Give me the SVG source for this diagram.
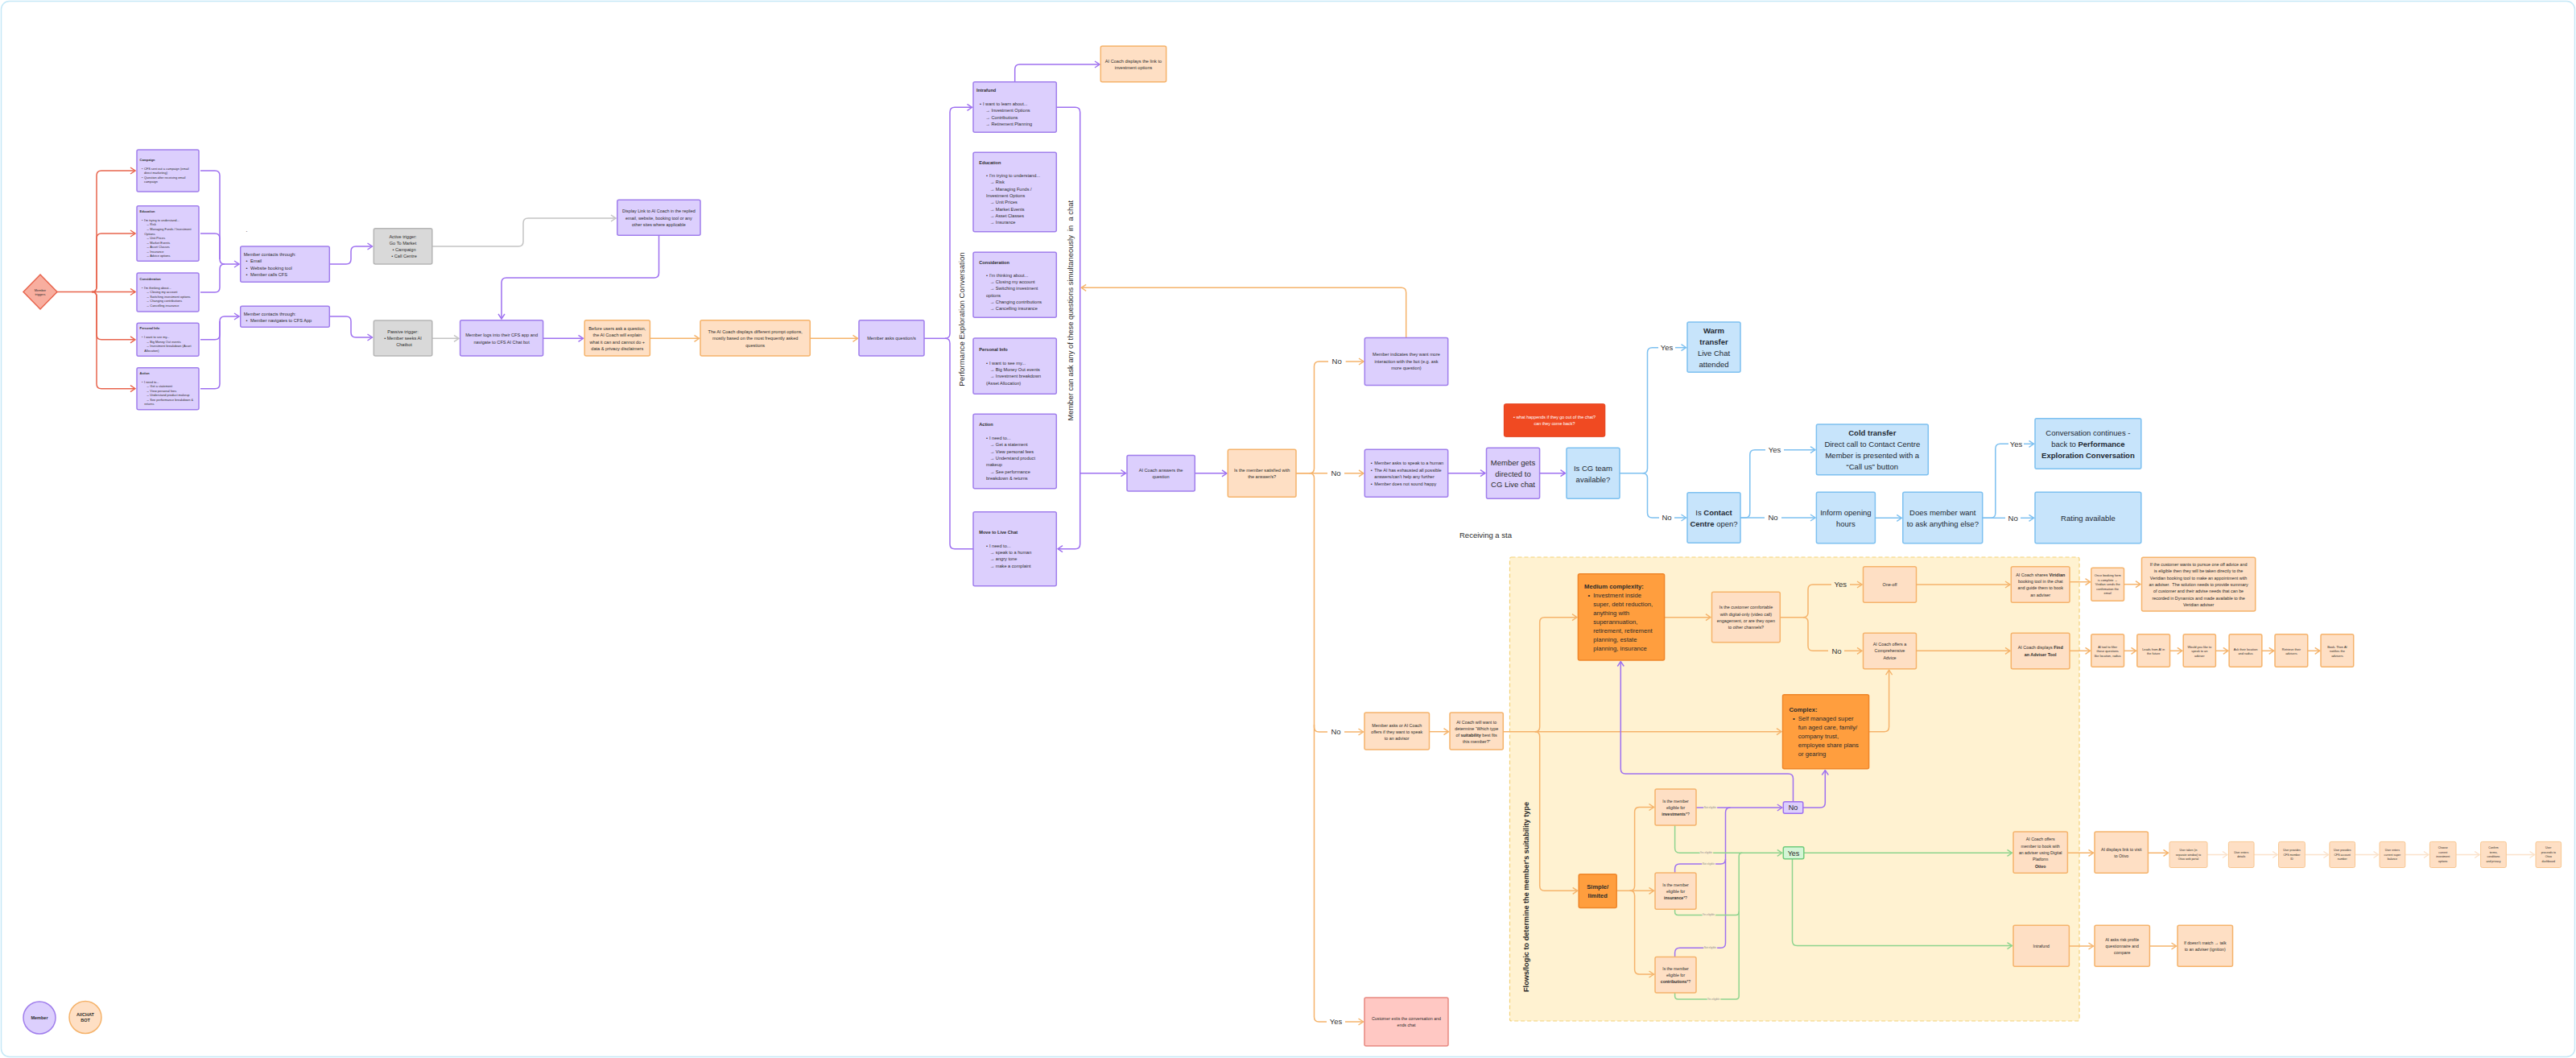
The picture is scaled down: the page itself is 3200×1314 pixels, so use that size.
<svg xmlns="http://www.w3.org/2000/svg" width="3200" height="1314" viewBox="0 0 3200 1314">
<defs>
<style>
.t{font-family:"Liberation Sans",Arial,sans-serif;fill:#2b2b2b}
.c{text-anchor:middle}
.b{font-weight:700}
.s35{font-size:3.5px}.s4{font-size:3.9px}.s5{font-size:5.4px}.s56{font-size:5.6px}.s77{font-size:7.7px}.s95{font-size:9.5px}
.bp{fill:#DCCFFD;stroke:#A07EEC;stroke-width:1.5}
.bo{fill:#FEDFC4;stroke:#F5B36B;stroke-width:1.5}
.bf{fill:#FEDFC4;stroke:#F8C690;stroke-width:1}
.bg{fill:#D9D9D9;stroke:#B5B5B5;stroke-width:1.5}
.bb{fill:#C7E4FB;stroke:#7DC0F0;stroke-width:1.5}
.bd{fill:#FF9E3E;stroke:#EF8629;stroke-width:1.5}
.k{fill:none;stroke-width:1.5}
.kp{stroke:#9E70F0}.ko{stroke:#F5B36B}.kg{stroke:#C4C4C4}.kb{stroke:#7DC0F0}.kr{stroke:#E8654E}.kn{stroke:#8ED48E}.kf{stroke:#FBE2CB}
.bt{fill:#1f2a33}
.lab{font-family:"Liberation Sans",Arial,sans-serif;font-size:9.5px;fill:#333;text-anchor:middle}
.el{font-family:"Liberation Sans",Arial,sans-serif;font-size:3px;fill:#888;text-anchor:middle;paint-order:stroke;stroke:#FFF2D1;stroke-width:2}
</style>
<marker id="ap" viewBox="0 0 8 10" refX="7" refY="5" markerWidth="8" markerHeight="10" markerUnits="userSpaceOnUse" orient="auto"><path d="M1,1 L7,5 L1,9" fill="none" stroke="#9E70F0" stroke-width="1.4"/></marker>
<marker id="ao" viewBox="0 0 8 10" refX="7" refY="5" markerWidth="8" markerHeight="10" markerUnits="userSpaceOnUse" orient="auto"><path d="M1,1 L7,5 L1,9" fill="none" stroke="#F5B36B" stroke-width="1.4"/></marker>
<marker id="ag" viewBox="0 0 8 10" refX="7" refY="5" markerWidth="8" markerHeight="10" markerUnits="userSpaceOnUse" orient="auto"><path d="M1,1 L7,5 L1,9" fill="none" stroke="#C4C4C4" stroke-width="1.4"/></marker>
<marker id="ab" viewBox="0 0 8 10" refX="7" refY="5" markerWidth="8" markerHeight="10" markerUnits="userSpaceOnUse" orient="auto"><path d="M1,1 L7,5 L1,9" fill="none" stroke="#7DC0F0" stroke-width="1.4"/></marker>
<marker id="ar" viewBox="0 0 8 10" refX="7" refY="5" markerWidth="8" markerHeight="10" markerUnits="userSpaceOnUse" orient="auto"><path d="M1,1 L7,5 L1,9" fill="none" stroke="#E8654E" stroke-width="1.4"/></marker>
<marker id="an" viewBox="0 0 8 10" refX="7" refY="5" markerWidth="8" markerHeight="10" markerUnits="userSpaceOnUse" orient="auto"><path d="M1,1 L7,5 L1,9" fill="none" stroke="#8ED48E" stroke-width="1.4"/></marker>
<marker id="af" viewBox="0 0 8 10" refX="7" refY="5" markerWidth="8" markerHeight="10" markerUnits="userSpaceOnUse" orient="auto"><path d="M1,1 L7,5 L1,9" fill="none" stroke="#FBE2CB" stroke-width="1.4"/></marker>
</defs>
<rect width="3200" height="1314" fill="#ffffff"/>
<rect x="1.5" y="1.5" width="3197" height="1311" rx="10" fill="#ffffff" stroke="#C5E8F7" stroke-width="1.5"/>

<g id="suitability-region">
<rect x="1875.5" y="692" width="707.5" height="576" rx="2" fill="#FFF2D1" stroke="#F3D179" stroke-width="1.2" stroke-dasharray="5 3"/>
<text class="t b" font-size="9.2" text-anchor="middle" textLength="236" lengthAdjust="spacingAndGlyphs" transform="translate(1899.2 1114) rotate(-90)" fill="#1a1a1a">Flows/logic to determine the member's suitability type</text>
</g>

<g id="connectors">
<path class="k kr" d="M71 362.5 H168" marker-end="url(#ar)"/>
<path class="k kr" d="M114 362.5 Q120 362.5 120 356.5 V218 Q120 212 126 212 H168" marker-end="url(#ar)"/>
<path class="k kr" d="M114 362.5 Q120 362.5 120 356.5 V296 Q120 290 126 290 H168" marker-end="url(#ar)"/>
<path class="k kr" d="M114 362.5 Q120 362.5 120 368.5 V415.8 Q120 421.8 126 421.8 H168" marker-end="url(#ar)"/>
<path class="k kr" d="M114 362.5 Q120 362.5 120 368.5 V476.7 Q120 482.7 126 482.7 H168" marker-end="url(#ar)"/>

<path class="k kp" d="M249 212 H267 Q273 212 273 218 V322 Q273 328 279 328 H297" marker-end="url(#ap)"/>
<path class="k kp" d="M249 290 H267 Q273 290 273 296 V322"/>
<path class="k kp" d="M249 363 H267 Q273 363 273 357 V334 Q273 328 279 328"/>
<path class="k kp" d="M249 421.8 H267 Q273 421.8 273 415.8 V399 Q273 393 279 393 H297" marker-end="url(#ap)"/>
<path class="k kp" d="M249 482.7 H267 Q273 482.7 273 476.7 V399"/>

<path class="k kp" d="M410 328 H430 Q436 328 436 322 V312 Q436 306 442 306 H462.5" marker-end="url(#ap)"/>
<path class="k kp" d="M410 393 H430 Q436 393 436 399 V413 Q436 419 442 419 H462.5" marker-end="url(#ap)"/>
<path class="k kg" d="M537 306 H644 Q650 306 650 300 V277 Q650 271 656 271 H765" marker-end="url(#ag)"/>
<path class="k kp" d="M818.5 292.5 V339 Q818.5 345 812.5 345 H629 Q623 345 623 351 V396" marker-end="url(#ap)"/>
<path class="k kg" d="M537 420.3 H570" marker-end="url(#ag)"/>
<path class="k kp" d="M675 420.3 H724.5" marker-end="url(#ap)"/>
<path class="k ko" d="M807.5 420.3 H868.5" marker-end="url(#ao)"/>
<path class="k ko" d="M1006.5 420.3 H1065.5" marker-end="url(#ao)"/>
<path class="k kp" d="M1148 420.3 H1174"/>
<path class="k kp" d="M1174 420.3 Q1180 420.3 1180 414.3 V139.3 Q1180 133.3 1186 133.3 H1207.5" marker-end="url(#ap)"/>
<path class="k kp" d="M1174 420.3 Q1180 420.3 1180 426.3 V675.7 Q1180 681.7 1186 681.7 H1209"/>
<path class="k kp" d="M1312.5 133.3 H1335.7 Q1341.7 133.3 1341.7 139.3 V675.7 Q1341.7 681.7 1335.7 681.7 H1314" marker-end="url(#ap)"/>
<path class="k kp" d="M1341.7 587.7 H1398.5" marker-end="url(#ap)"/>
<path class="k kp" d="M1260.7 101.7 V86 Q1260.7 80 1266.7 80 H1366" marker-end="url(#ap)"/>
<path class="k ko" d="M1746.7 419.5 V363.3 Q1746.7 357.3 1740.7 357.3 H1343.2" marker-end="url(#ao)"/>
<path class="k kp" d="M1484.3 587.8 H1524" marker-end="url(#ap)"/>

<path class="k ko" d="M1610 587.8 H1626.5 Q1632.5 587.8 1632.5 581.8 V455 Q1632.5 449 1638.5 449 H1650"/>
<path class="k ko" d="M1671.7 449 H1694" marker-end="url(#ao)"/>
<path class="k ko" d="M1610 587.8 H1649"/>
<path class="k ko" d="M1670 587.8 H1694" marker-end="url(#ao)"/>
<path class="k ko" d="M1626.5 587.8 Q1632.5 587.8 1632.5 593.8 V903 Q1632.5 909 1638.5 909 H1649"/>
<path class="k ko" d="M1670 909 H1693.5" marker-end="url(#ao)"/>
<path class="k ko" d="M1632.5 900 V1263 Q1632.5 1269 1638.5 1269 H1648"/>
<path class="k ko" d="M1671 1269 H1693.5" marker-end="url(#ao)"/>

<path class="k kp" d="M1798.7 587.7 H1845" marker-end="url(#ap)"/>
<path class="k kp" d="M1912.6 587.7 H1944.5" marker-end="url(#ap)"/>
<path class="k kb" d="M2012 587.7 H2040.5 Q2046.5 587.7 2046.5 581.7 V437.7 Q2046.5 431.7 2052.5 431.7 H2060"/>
<path class="k kb" d="M2081 431.7 H2094.5" marker-end="url(#ab)"/>
<path class="k kb" d="M2040.5 587.7 Q2046.5 587.7 2046.5 593.7 V637 Q2046.5 643 2052.5 643 H2061"/>
<path class="k kb" d="M2080 643 H2094.5" marker-end="url(#ab)"/>
<path class="k kb" d="M2162 643 H2167.8 Q2173.8 643 2173.8 637 V564.7 Q2173.8 558.7 2179.8 558.7 H2193"/>
<path class="k kb" d="M2216 558.7 H2255" marker-end="url(#ab)"/>
<path class="k kb" d="M2162 643 H2192"/>
<path class="k kb" d="M2213 643 H2255" marker-end="url(#ab)"/>
<path class="k kb" d="M2329.4 643.3 H2362.3" marker-end="url(#ab)"/>
<path class="k kb" d="M2462.7 643.3 H2472.8 Q2478.8 643.3 2478.8 637.3 V557.3 Q2478.8 551.3 2484.8 551.3 H2495"/>
<path class="k kb" d="M2514 551.3 H2526.5" marker-end="url(#ab)"/>
<path class="k kb" d="M2462.7 643.3 H2491"/>
<path class="k kb" d="M2510 643.3 H2526.5" marker-end="url(#ab)"/>

<path class="k ko" d="M1775.5 908.7 H1799.5" marker-end="url(#ao)"/>
<path class="k ko" d="M1867.3 908.7 H2213" marker-end="url(#ao)"/>
<path class="k ko" d="M1906.7 908.7 Q1912.7 908.7 1912.7 902.7 V772.7 Q1912.7 766.7 1918.7 766.7 H1959" marker-end="url(#ao)"/>
<path class="k ko" d="M1906.7 908.7 Q1912.7 908.7 1912.7 914.7 V1100.3 Q1912.7 1106.3 1918.7 1106.3 H1959.7" marker-end="url(#ao)"/>
<path class="k ko" d="M2067.6 766.7 H2125" marker-end="url(#ao)"/>
<path class="k ko" d="M2211.3 766.7 H2240 Q2246 766.7 2246 760.7 V732 Q2246 726 2252 726 H2275"/>
<path class="k ko" d="M2298 726 H2313" marker-end="url(#ao)"/>
<path class="k ko" d="M2240 766.7 Q2246 766.7 2246 772.7 V802.3 Q2246 808.3 2252 808.3 H2271"/>
<path class="k ko" d="M2291 808.3 H2313" marker-end="url(#ao)"/>
<path class="k ko" d="M2380.5 726 H2497" marker-end="url(#ao)"/>
<path class="k ko" d="M2380.5 808.3 H2497" marker-end="url(#ao)"/>
<path class="k ko" d="M2321.6 908.7 H2340.6 Q2346.6 908.7 2346.6 902.7 V832.2" marker-end="url(#ao)"/>
<path class="k ko" d="M2571 722.7 H2596.5" marker-end="url(#ao)"/>
<path class="k ko" d="M2638.5 725.7 H2659" marker-end="url(#ao)"/>
<path class="k ko" d="M2571 808.3 H2596.5" marker-end="url(#ao)"/>
<path class="k ko" d="M2638.5 808.3 H2653.5" marker-end="url(#ao)"/>
<path class="k ko" d="M2695.5 808.3 H2710.8" marker-end="url(#ao)"/>
<path class="k ko" d="M2752.4 808.3 H2767.8" marker-end="url(#ao)"/>
<path class="k ko" d="M2809.8 808.3 H2824.7" marker-end="url(#ao)"/>
<path class="k ko" d="M2866.7 808.3 H2881.7" marker-end="url(#ao)"/>
<path class="k ko" d="M2008.2 1106.3 H2054.5" marker-end="url(#ao)"/>
<path class="k ko" d="M2024.6 1106.3 Q2030.6 1106.3 2030.6 1100.3 V1008.5 Q2030.6 1002.5 2036.6 1002.5 H2054.5" marker-end="url(#ao)"/>
<path class="k ko" d="M2024.6 1106.3 Q2030.6 1106.3 2030.6 1112.3 V1204 Q2030.6 1210 2036.6 1210 H2054.5" marker-end="url(#ao)"/>

<path class="k kp" d="M2107 1003 H2213.8" marker-end="url(#ap)"/>
<path class="k kp" d="M2080.6 1084 V1079.1 Q2080.6 1073.1 2086.6 1073.1 H2137.5 Q2143.5 1073.1 2143.5 1067.1 V1009 Q2143.5 1003 2149.5 1003"/>
<path class="k kp" d="M2080.6 1188.5 V1183.3 Q2080.6 1177.3 2086.6 1177.3 H2137.5 Q2143.5 1177.3 2143.5 1171.3 V1067"/>
<path class="k kp" d="M2239.8 1003 H2261.3 Q2267.3 1003 2267.3 997 V956.5" marker-end="url(#ap)"/>
<path class="k kp" d="M2227.5 995.7 V966.9 Q2227.5 960.9 2221.5 960.9 H2019.3 Q2013.3 960.9 2013.3 954.9 V821.5" marker-end="url(#ap)"/>
<path class="k kn" d="M2080.6 1025.1 V1053.3 Q2080.6 1059.3 2086.6 1059.3 H2213.8" marker-end="url(#an)"/>
<path class="k kn" d="M2080.6 1129.3 V1132.4 Q2080.6 1136.4 2084.6 1136.4 H2156.2 Q2160.2 1136.4 2160.2 1132.4 V1063.3 Q2160.2 1059.3 2164.2 1059.3"/>
<path class="k kn" d="M2080.6 1233.1 V1236.9 Q2080.6 1240.9 2084.6 1240.9 H2156.2 Q2160.2 1240.9 2160.2 1236.9 V1132"/>
<path class="k kn" d="M2240.8 1059.3 H2499.5" marker-end="url(#an)"/>
<path class="k kn" d="M2226.5 1066.7 V1168.6 Q2226.5 1174.6 2232.5 1174.6 H2499.5" marker-end="url(#an)"/>
<path class="k ko" d="M2568.4 1059.3 H2600.5" marker-end="url(#ao)"/>
<path class="k ko" d="M2668.4 1059.3 H2693.5" marker-end="url(#ao)"/>
<path class="k kf" d="M2742 1061.5 H2766.9" marker-end="url(#af)"/>
<path class="k kf" d="M2800 1061.5 H2829.1" marker-end="url(#af)"/>
<path class="k kf" d="M2863.3 1061.5 H2892.4" marker-end="url(#af)"/>
<path class="k kf" d="M2925.5 1061.5 H2954.5" marker-end="url(#af)"/>
<path class="k kf" d="M2987.8 1061.5 H3016.9" marker-end="url(#af)"/>
<path class="k kf" d="M3051 1061.5 H3080.1" marker-end="url(#af)"/>
<path class="k kf" d="M3113.3 1061.5 H3148.5" marker-end="url(#af)"/>
<path class="k ko" d="M2570.4 1175 H2600.5" marker-end="url(#ao)"/>
<path class="k ko" d="M2670.4 1175 H2703.5" marker-end="url(#ao)"/>

<text class="lab" x="1660.7" y="452.4">No</text>
<text class="lab" x="1659.5" y="591.2">No</text>
<text class="lab" x="1659.5" y="912.4">No</text>
<text class="lab" x="1659.5" y="1272.4">Yes</text>
<text class="lab" x="2070.5" y="435.1">Yes</text>
<text class="lab" x="2070.5" y="646.4">No</text>
<text class="lab" x="2204.6" y="562.1">Yes</text>
<text class="lab" x="2202.5" y="646.4">No</text>
<text class="lab" x="2504.5" y="554.7">Yes</text>
<text class="lab" x="2500.6" y="646.7">No</text>
<text class="lab" x="2286.3" y="729.4">Yes</text>
<text class="lab" x="2281.5" y="811.7">No</text>
<text class="el" x="2124.5" y="1004">Not eligible</text>
<text class="el" x="2119.4" y="1060.3">Yes eligible</text>
<text class="el" x="2122.4" y="1074.1">Not eligible</text>
<text class="el" x="2122.4" y="1137.4">Yes eligible</text>
<text class="el" x="2124.5" y="1178.3">Not eligible</text>
<text class="el" x="2128.6" y="1241.9">Yes eligible</text>
</g>

<g id="member-triggers">
<polygon points="50,341 71,362.5 50,384 29,362.5" fill="#F8AE9F" stroke="#E8654E" stroke-width="1.5"/>
<text class="t c s4" fill="#5a2a20"><tspan x="50" y="361.7">Member</tspan><tspan x="50" y="367.4">triggers</tspan></text>
</g>

<g id="campaign">
<rect class="bp" x="170" y="186" width="77" height="52" rx="2"/>
<text class="t s4"><tspan x="173.6" y="199.6" class="b">Campaign</tspan><tspan x="176" y="210.6">•</tspan><tspan x="179" y="210.6">CFS sent out a campaign (email</tspan><tspan x="179" y="216">direct marketing)</tspan><tspan x="176" y="221.6">•</tspan><tspan x="179" y="221.6">Question after receiving email</tspan><tspan x="179" y="227.3">campaign</tspan></text>
</g>
<g id="education-1">
<rect class="bp" x="170" y="255.7" width="77" height="68.6" rx="2"/>
<text class="t s4"><tspan x="173.6" y="264" class="b">Education</tspan><tspan x="176" y="275">•</tspan><tspan x="179" y="275">I'm trying to understand...</tspan><tspan x="181.4" y="280.3">→ Risk</tspan><tspan x="181.4" y="286">→ Managing Funds / Investment</tspan><tspan x="179.3" y="291.6">Options</tspan><tspan x="181.4" y="297">→ Unit Prices</tspan><tspan x="181.4" y="302.6">→ Market Events</tspan><tspan x="181.4" y="308">→ Asset Classes</tspan><tspan x="181.4" y="313.6">→ Insurance</tspan><tspan x="181.4" y="319">→ Advice options</tspan></text>
</g>
<g id="consideration-1">
<rect class="bp" x="170" y="339" width="77" height="48" rx="2"/>
<text class="t s4"><tspan x="173.6" y="347.6" class="b">Consideration</tspan><tspan x="176" y="359">•</tspan><tspan x="179" y="359">I'm thinking about...</tspan><tspan x="181.4" y="364.3">→ Closing my account</tspan><tspan x="181.4" y="370">→ Switching investment options</tspan><tspan x="181.4" y="375.3">→ Changing contributions</tspan><tspan x="181.4" y="381">→ Cancelling insurance</tspan></text>
</g>
<g id="personal-info-1">
<rect class="bp" x="170" y="401.3" width="77" height="41" rx="2"/>
<text class="t s4"><tspan x="173.6" y="409.3" class="b">Personal Info</tspan><tspan x="176" y="420.3">•</tspan><tspan x="179" y="420.3">I want to see my...</tspan><tspan x="181.4" y="426">→ Big Money Out events</tspan><tspan x="181.4" y="431.3">→ Investment breakdown (Asset</tspan><tspan x="179.3" y="437">Allocation)</tspan></text>
</g>
<g id="action-1">
<rect class="bp" x="170" y="456.7" width="77" height="52" rx="2"/>
<text class="t s4"><tspan x="173.6" y="464.6" class="b">Action</tspan><tspan x="176" y="475.6">•</tspan><tspan x="179" y="475.6">I need to...</tspan><tspan x="181.4" y="481">→ Get a statement</tspan><tspan x="181.4" y="486.6">→ View personal fees</tspan><tspan x="181.4" y="492.3">→ Understand product makeup</tspan><tspan x="181.4" y="497.6">→ See performance breakdown &amp;</tspan><tspan x="179.3" y="503.3">returns</tspan></text>
</g>

<g id="contacts-a">
<rect class="bp" x="298.7" y="306" width="110.6" height="44.3" rx="2"/>
<text class="t s56"><tspan x="302.7" y="318">Member contacts through:</tspan><tspan x="305.5" y="326.3">•</tspan><tspan x="311" y="326.3">Email</tspan><tspan x="305.5" y="334.7">•</tspan><tspan x="311" y="334.7">Website booking tool</tspan><tspan x="305.5" y="343">•</tspan><tspan x="311" y="343">Member calls CFS</tspan></text>
</g>
<g id="contacts-b">
<rect class="bp" x="298.7" y="380.3" width="110.6" height="26" rx="2"/>
<text class="t s56"><tspan x="302.7" y="391.7">Member contacts through:</tspan><tspan x="305.5" y="400">•</tspan><tspan x="311" y="400">Member navigates to CFS App</tspan></text>
</g>
<g id="dot"><text class="t" font-size="7" x="305.5" y="288">.</text></g>

<g id="active-trigger">
<rect class="bg" x="464.3" y="283.7" width="72.5" height="44.3" rx="2"/>
<text class="t c s56" fill="#333"><tspan x="500.5" y="295.7">Active trigger:</tspan><tspan x="500.5" y="303.7">Go To Market</tspan><tspan x="502" y="312">• Campaign</tspan><tspan x="502" y="320.3">• Call Centre</tspan></text>
</g>
<g id="passive-trigger">
<rect class="bg" x="464.3" y="398" width="72.5" height="44" rx="2"/>
<text class="t c s56" fill="#333"><tspan x="500.5" y="414">Passive trigger:</tspan><tspan x="500.5" y="422">• Member seeks AI</tspan><tspan x="502" y="430.3">Chatbot</tspan></text>
</g>
<g id="display-link">
<rect class="bp" x="766.8" y="248.3" width="103.2" height="44" rx="2"/>
<text class="t c s5"><tspan x="818.4" y="264.3">Display Link to AI Coach in the replied</tspan><tspan x="818.4" y="272.7">email, website, booking tool or any</tspan><tspan x="818.4" y="281">other sites where applicable</tspan></text>
</g>
<g id="login">
<rect class="bp" x="571.6" y="397.7" width="103" height="44.3" rx="2"/>
<text class="t c s56"><tspan x="623.1" y="418.3">Member logs into their CFS app and</tspan><tspan x="623.1" y="426.7">navigate to CFS AI Chat bot</tspan></text>
</g>
<g id="before-ask">
<rect class="bo" x="726.2" y="397.7" width="81.2" height="44.3" rx="2"/>
<text class="t c s56"><tspan x="766.8" y="410">Before users ask a question,</tspan><tspan x="766.8" y="418.3">the AI Coach will explain</tspan><tspan x="766.8" y="426.7">what it can and cannot do +</tspan><tspan x="766.8" y="434.7">data &amp; privacy disclaimers</tspan></text>
</g>
<g id="prompts">
<rect class="bo" x="870" y="397.7" width="136.3" height="44.3" rx="2"/>
<text class="t c s56"><tspan x="938.2" y="414">The AI Coach displays different prompt options,</tspan><tspan x="938.2" y="422.3">mostly based on the most frequently asked</tspan><tspan x="938.2" y="430.7">questions</tspan></text>
</g>
<g id="member-asks">
<rect class="bp" x="1067" y="397.7" width="81" height="44.3" rx="2"/>
<text class="t c s56" x="1107.5" y="422.3">Member asks question/s</text>
</g>

<g id="bracket-labels">
<text class="t c b" font-size="9.7" fill="#8B5CF6" transform="translate(1198.4 396.5) rotate(-90)" style="font-weight:400">Performance Exploration Conversation</text>
<text class="t c" font-size="9.4" fill="#222" xml:space="preserve" transform="translate(1332.5 385.7) rotate(-90)">Member can ask any of these questions simultaneously  in  a chat</text>
</g>

<g id="intrafund-q">
<rect class="bp" x="1209" y="101.7" width="103.3" height="62.6" rx="2"/>
<text class="t s56"><tspan x="1213" y="114.3" class="b">Intrafund</tspan><tspan x="1217" y="131.3">•</tspan><tspan x="1221" y="131.3">I want to learn about...</tspan><tspan x="1224.3" y="139.3">→ Investment Options</tspan><tspan x="1224.3" y="147.7">→ Contributions</tspan><tspan x="1224.3" y="156">→ Retirement Planning</tspan></text>
</g>
<g id="education-q">
<rect class="bp" x="1209" y="189.3" width="103.3" height="98.4" rx="2"/>
<text class="t s56"><tspan x="1216.3" y="203.7" class="b">Education</tspan><tspan x="1225" y="220.3">•</tspan><tspan x="1229" y="220.3">I'm trying to understand...</tspan><tspan x="1229.7" y="228.3">→ Risk</tspan><tspan x="1229.7" y="236.7">→ Managing Funds /</tspan><tspan x="1225" y="245">Investment Options</tspan><tspan x="1229.7" y="253.3">→ Unit Prices</tspan><tspan x="1229.7" y="261.7">→ Market Events</tspan><tspan x="1229.7" y="270">→ Asset Classes</tspan><tspan x="1229.7" y="278.3">→ Insurance</tspan></text>
</g>
<g id="consideration-q">
<rect class="bp" x="1209" y="313.3" width="103.3" height="81" rx="2"/>
<text class="t s56"><tspan x="1216.3" y="327.7" class="b">Consideration</tspan><tspan x="1225" y="344">•</tspan><tspan x="1229" y="344">I'm thinking about...</tspan><tspan x="1229.7" y="352">→ Closing my account</tspan><tspan x="1229.7" y="360.3">→ Switching investment</tspan><tspan x="1225" y="368.7">options</tspan><tspan x="1229.7" y="377">→ Changing contributions</tspan><tspan x="1229.7" y="385.3">→ Cancelling insurance</tspan></text>
</g>
<g id="personal-info-q">
<rect class="bp" x="1209" y="420" width="103.3" height="69.3" rx="2"/>
<text class="t s56"><tspan x="1216.3" y="436" class="b">Personal Info</tspan><tspan x="1225" y="452.7">•</tspan><tspan x="1229" y="452.7">I want to see my...</tspan><tspan x="1229.7" y="461">→ Big Money Out events</tspan><tspan x="1229.7" y="469.3">→ Investment breakdown</tspan><tspan x="1225" y="477.7">(Asset Allocation)</tspan></text>
</g>
<g id="action-q">
<rect class="bp" x="1209" y="514.3" width="103.3" height="92.4" rx="2"/>
<text class="t s56"><tspan x="1216.3" y="529.3" class="b">Action</tspan><tspan x="1225" y="546">•</tspan><tspan x="1229" y="546">I need to...</tspan><tspan x="1229.7" y="554.3">→ Get a statement</tspan><tspan x="1229.7" y="562.7">→ View personal fees</tspan><tspan x="1229.7" y="571">→ Understand product</tspan><tspan x="1225" y="579.3">makeup</tspan><tspan x="1229.7" y="587.7">→ See performance</tspan><tspan x="1225" y="596">breakdown &amp; returns</tspan></text>
</g>
<g id="live-chat-q">
<rect class="bp" x="1209" y="635.7" width="103.3" height="92" rx="2"/>
<text class="t s56"><tspan x="1216.3" y="663.3" class="b">Move to Live Chat</tspan><tspan x="1225" y="679.7">•</tspan><tspan x="1229" y="679.7">I need to...</tspan><tspan x="1229.7" y="688">→ speak to a human</tspan><tspan x="1229.7" y="696.3">→ angry tone</tspan><tspan x="1229.7" y="704.7">→ make a complaint</tspan></text>
</g>
<g id="link-investment">
<rect class="bo" x="1367.3" y="57.3" width="81.4" height="44.4" rx="2"/>
<text class="t c s56"><tspan x="1408" y="77.7">AI Coach displays the link to</tspan><tspan x="1408" y="86">investment options</tspan></text>
</g>
<g id="ai-answers">
<rect class="bp" x="1400" y="565.4" width="84.3" height="44.6" rx="2"/>
<text class="t c s56"><tspan x="1442.1" y="585.7">AI Coach answers the</tspan><tspan x="1442.1" y="594.2">question</tspan></text>
</g>
<g id="satisfied">
<rect class="bo" x="1525.3" y="558.3" width="84.7" height="58.9" rx="2"/>
<text class="t c s56"><tspan x="1567.7" y="585.7">Is the member satisfied with</tspan><tspan x="1567.7" y="594.2">the answer/s?</tspan></text>
</g>
<g id="more-interaction">
<rect class="bp" x="1695.3" y="419.5" width="103.4" height="58.9" rx="2"/>
<text class="t c s56"><tspan x="1747" y="442.4">Member indicates they want more</tspan><tspan x="1747" y="451">interaction with the bot (e.g. ask</tspan><tspan x="1747" y="459.4">more question)</tspan></text>
</g>
<g id="speak-human">
<rect class="bp" x="1695.3" y="558.3" width="103.4" height="58.9" rx="2"/>
<text class="t s56"><tspan x="1702.7" y="577.3">•</tspan><tspan x="1707.3" y="577.3">Member asks to speak to a human</tspan><tspan x="1702.7" y="585.7">•</tspan><tspan x="1707.3" y="585.7">The AI has exhausted all possible</tspan><tspan x="1707.3" y="594.2">answers/can't help any further</tspan><tspan x="1702.7" y="602.7">•</tspan><tspan x="1707.3" y="602.7">Member does not sound happy</tspan></text>
</g>
<g id="cg-live-chat">
<rect class="bp" x="1846.5" y="556.3" width="66.1" height="63" rx="2"/>
<text class="t c s95"><tspan x="1879.5" y="578.1">Member gets</tspan><tspan x="1879.5" y="591.7">directed to</tspan><tspan x="1879.5" y="605.4">CG Live chat</tspan></text>
</g>
<g id="cg-available">
<rect class="bb" x="1946" y="556.3" width="66" height="63" rx="2"/>
<text class="t c s95 bt"><tspan x="1979" y="585.1">Is CG team</tspan><tspan x="1979" y="598.7">available?</tspan></text>
</g>
<g id="note">
<rect x="1868.4" y="501.7" width="125.4" height="40.6" rx="2" fill="#F04A22" stroke="#E23C16" stroke-width="1"/>
<text class="c s5" font-family="Liberation Sans, Arial, sans-serif" fill="#ffffff"><tspan x="1931" y="520">• what happends if they go out of the chat?</tspan><tspan x="1931" y="528.3">can they come back?</tspan></text>
</g>
<g id="receiving"><text class="t s95" fill="#222" x="1813" y="667.7">Receiving a sta</text></g>
<g id="warm-transfer">
<rect class="bb" x="2096" y="400" width="66" height="62.3" rx="2"/>
<text class="t c s95 bt"><tspan x="2129" y="414.4" class="b">Warm</tspan><tspan x="2129" y="428.1" class="b">transfer</tspan><tspan x="2129" y="441.7">Live Chat</tspan><tspan x="2129" y="455.7">attended</tspan></text>
</g>
<g id="contact-open">
<rect class="bb" x="2096" y="611.7" width="66" height="62.6" rx="2"/>
<text class="t c s95 bt"><tspan x="2129" y="640.1">Is <tspan class="b">Contact</tspan></tspan><tspan x="2129" y="653.7"><tspan class="b">Centre</tspan> open?</tspan></text>
</g>
<g id="cold-transfer">
<rect class="bb" x="2256.4" y="527" width="138.9" height="62.7" rx="2"/>
<text class="t c s95 bt"><tspan x="2325.8" y="541.4" class="b">Cold transfer</tspan><tspan x="2325.8" y="555.1">Direct call to Contact Centre</tspan><tspan x="2325.8" y="569.1">Member is presented with a</tspan><tspan x="2325.8" y="582.7">“Call us” button</tspan></text>
</g>
<g id="inform-hours">
<rect class="bb" x="2256.4" y="611.3" width="73" height="63.4" rx="2"/>
<text class="t c s95 bt"><tspan x="2292.9" y="640.1">Inform opening</tspan><tspan x="2292.9" y="653.7">hours</tspan></text>
</g>
<g id="anything-else">
<rect class="bb" x="2363.8" y="611.3" width="98.9" height="63.4" rx="2"/>
<text class="t c s95 bt"><tspan x="2413.3" y="640.1">Does member want</tspan><tspan x="2413.3" y="653.7">to ask anything else?</tspan></text>
</g>
<g id="conversation-continues">
<rect class="bb" x="2528" y="519.7" width="131.8" height="62.6" rx="2"/>
<text class="t c s95 bt"><tspan x="2593.9" y="541.1">Conversation continues -</tspan><tspan x="2593.9" y="554.7">back to <tspan class="b">Performance</tspan></tspan><tspan x="2593.9" y="568.7" class="b">Exploration Conversation</tspan></text>
</g>
<g id="rating">
<rect class="bb" x="2528" y="611.3" width="131.8" height="63.4" rx="2"/>
<text class="t c s95 bt" x="2593.9" y="646.7">Rating available</text>
</g>

<g id="medium">
<rect class="bd" x="1960.4" y="712.7" width="107.2" height="107.3" rx="2"/>
<text class="t s77" fill="#1a1a1a"><tspan x="1968" y="730.7" class="b">Medium complexity:</tspan><tspan x="1972.5" y="741.7">•</tspan><tspan x="1979.2" y="741.7">Investment inside</tspan><tspan x="1979.2" y="752.7">super, debt reduction,</tspan><tspan x="1979.2" y="763.7">anything with</tspan><tspan x="1979.2" y="774.7">superannuation,</tspan><tspan x="1979.2" y="786">retirement, retirement</tspan><tspan x="1979.2" y="797">planning, estate</tspan><tspan x="1979.2" y="808">planning, insurance</tspan></text>
</g>
<g id="digital-only">
<rect class="bo" x="2126.5" y="735.3" width="84.8" height="62.4" rx="2"/>
<text class="t c s5"><tspan x="2168.9" y="756.3">Is the customer comfortable</tspan><tspan x="2168.9" y="764.7">with digital-only (video call)</tspan><tspan x="2168.9" y="772.7">engagement, or are they open</tspan><tspan x="2168.9" y="781">to other channels?</tspan></text>
</g>
<g id="one-off">
<rect class="bo" x="2314.5" y="703.7" width="66" height="44.6" rx="2"/>
<text class="t c s5" x="2347.5" y="728">One-off</text>
</g>
<g id="comprehensive">
<rect class="bo" x="2314.5" y="786.3" width="66" height="44.4" rx="2"/>
<text class="t c s5"><tspan x="2347.5" y="802">AI Coach offers a</tspan><tspan x="2347.5" y="810.3">Comprehensive</tspan><tspan x="2347.5" y="818.7">Advice</tspan></text>
</g>
<g id="viridian">
<rect class="bo" x="2498.3" y="703.7" width="72.7" height="44.6" rx="2"/>
<text class="t c s5"><tspan x="2534.7" y="715.7">AI Coach shares <tspan class="b">Viridian</tspan></tspan><tspan x="2534.7" y="724">booking tool in the chat</tspan><tspan x="2534.7" y="732.3">and guide them to book</tspan><tspan x="2534.7" y="740.7">an adviser</tspan></text>
</g>
<g id="booking-complete">
<rect class="bo" x="2597.8" y="705.3" width="40.7" height="41" rx="2"/>
<text class="t c s4"><tspan x="2618.2" y="716">Once booking form</tspan><tspan x="2618.2" y="721.6">is complete →</tspan><tspan x="2618.2" y="727">Viridian sends the</tspan><tspan x="2618.2" y="732.6">confirmation the</tspan><tspan x="2618.2" y="738.3">email</tspan></text>
</g>
<g id="one-off-note">
<rect class="bo" x="2660.5" y="692.3" width="141.2" height="66.7" rx="2"/>
<text class="t c s5"><tspan x="2731.1" y="703">If the customer wants to pursue one off advice and</tspan><tspan x="2731.1" y="711.3">is eligible then they will be taken directly to the</tspan><tspan x="2731.1" y="719.7">Veridian booking tool to make an appointment with</tspan><tspan x="2731.1" y="728" xml:space="preserve">an adviser.  The solution needs to provide summary</tspan><tspan x="2731.1" y="736">of customer and their advise needs that can be</tspan><tspan x="2731.1" y="744.7">recorded in Dynamics and made available to the</tspan><tspan x="2731.1" y="753">Veridian adviser</tspan></text>
</g>
<g id="find-adviser">
<rect class="bo" x="2498.3" y="786.3" width="72.7" height="44.4" rx="2"/>
<text class="t c s5"><tspan x="2534.7" y="806.3">AI Coach displays <tspan class="b">Find</tspan></tspan><tspan x="2534.7" y="814.7" class="b">an Adviser Tool</tspan></text>
</g>
<g id="fa-1"><rect class="bo" x="2597.8" y="787.7" width="40.7" height="40.6" rx="2"/><text class="t c s4"><tspan x="2618.2" y="804.7">AI tool to filter</tspan><tspan x="2618.2" y="810.3">those questions</tspan><tspan x="2618.2" y="816">like location, radius</tspan></text></g>
<g id="fa-2"><rect class="bo" x="2654.8" y="787.7" width="40.7" height="40.6" rx="2"/><text class="t c s4"><tspan x="2675.2" y="807.7">Leads from AI in</tspan><tspan x="2675.2" y="813">the future</tspan></text></g>
<g id="fa-3"><rect class="bo" x="2712.2" y="787.7" width="40.2" height="40.6" rx="2"/><text class="t c s4"><tspan x="2732.3" y="804.7">Would you like to</tspan><tspan x="2732.3" y="810.3">speak to an</tspan><tspan x="2732.3" y="816">adviser</tspan></text></g>
<g id="fa-4"><rect class="bo" x="2769.1" y="787.7" width="40.7" height="40.6" rx="2"/><text class="t c s4"><tspan x="2789.5" y="807.7">Ask their location</tspan><tspan x="2789.5" y="813">and radius</tspan></text></g>
<g id="fa-5"><rect class="bo" x="2826" y="787.7" width="40.7" height="40.6" rx="2"/><text class="t c s4"><tspan x="2846.4" y="807.7">Retrieve their</tspan><tspan x="2846.4" y="813">advisers</tspan></text></g>
<g id="fa-6"><rect class="bo" x="2883" y="787.7" width="40.7" height="40.6" rx="2"/><text class="t c s4"><tspan x="2903.4" y="804.7">Book. Then AI</tspan><tspan x="2903.4" y="810.3">notifies the</tspan><tspan x="2903.4" y="816">advisers</tspan></text></g>

<g id="complex">
<rect class="bd" x="2214.5" y="862.7" width="107.1" height="92" rx="2"/>
<text class="t s77" fill="#1a1a1a"><tspan x="2222.5" y="883.7" class="b">Complex:</tspan><tspan x="2227" y="895">•</tspan><tspan x="2233.7" y="895">Self managed super</tspan><tspan x="2233.7" y="906">fun aged care, family/</tspan><tspan x="2233.7" y="917">company trust,</tspan><tspan x="2233.7" y="928">employee share plans</tspan><tspan x="2233.7" y="939.4">or gearing</tspan></text>
</g>
<g id="offer-adviser">
<rect class="bo" x="1695" y="885" width="80.5" height="46" rx="2"/>
<text class="t c s5"><tspan x="1735.2" y="902.7">Member asks or AI Coach</tspan><tspan x="1735.2" y="911">offers if they want to speak</tspan><tspan x="1735.2" y="919.2">to an advisor</tspan></text>
</g>
<g id="determine-suitability">
<rect class="bo" x="1801" y="885" width="66.3" height="46" rx="2"/>
<text class="t c s5"><tspan x="1834.2" y="898.5">AI Coach will want to</tspan><tspan x="1834.2" y="906.7">determine “Which type</tspan><tspan x="1834.2" y="914.9">of <tspan class="b">suitability</tspan> best fits</tspan><tspan x="1834.2" y="923.3">this member?”</tspan></text>
</g>
<g id="simple">
<rect class="bd" x="1961.2" y="1085.7" width="47" height="41.9" rx="2"/>
<text class="t c b" font-size="7.5" fill="#1a1a1a"><tspan x="1984.7" y="1104.3">Simple/</tspan><tspan x="1984.7" y="1115.1">limited</tspan></text>
</g>
<g id="elig-investments">
<rect class="bo" x="2056" y="980.1" width="51" height="45" rx="2"/>
<text class="t c" font-size="5.1"><tspan x="2081.5" y="996.7">Is the member</tspan><tspan x="2081.5" y="1004.8">eligible for</tspan><tspan x="2081.5" y="1013"><tspan class="b">investments</tspan>*?</tspan></text>
</g>
<g id="elig-insurance">
<rect class="bo" x="2056" y="1084" width="51" height="45.3" rx="2"/>
<text class="t c" font-size="5.1"><tspan x="2081.5" y="1100.9">Is the member</tspan><tspan x="2081.5" y="1109">eligible for</tspan><tspan x="2081.5" y="1117.1"><tspan class="b">insurance</tspan>*?</tspan></text>
</g>
<g id="elig-contributions">
<rect class="bo" x="2056" y="1188.5" width="51" height="44.6" rx="2"/>
<text class="t c" font-size="5.1"><tspan x="2081.5" y="1204.7">Is the member</tspan><tspan x="2081.5" y="1213.1">eligible for</tspan><tspan x="2081.5" y="1221.2"><tspan class="b">contributions</tspan>*?</tspan></text>
</g>
<g id="no-box">
<rect x="2215.3" y="995.7" width="24.5" height="14.5" rx="2" fill="#DCCFFD" stroke="#9E70F0" stroke-width="1.5"/>
<text class="t c" font-size="9" x="2227.5" y="1006.3" fill="#3b2a7a">No</text>
</g>
<g id="yes-box">
<rect x="2215.3" y="1051.8" width="25.5" height="14.9" rx="2" fill="#D4F5D6" stroke="#6FCB7A" stroke-width="1.5"/>
<text class="t c" font-size="9" x="2228" y="1062.5" fill="#2d7a36">Yes</text>
</g>
<g id="otivo-offer">
<rect class="bo" x="2501" y="1032.9" width="67.4" height="51.4" rx="2"/>
<text class="t c" font-size="5.2"><tspan x="2534.7" y="1044.4">AI Coach offers</tspan><tspan x="2534.7" y="1052.8">member to book with</tspan><tspan x="2534.7" y="1061.3">an adviser using Digital</tspan><tspan x="2534.7" y="1069.4">Platform</tspan><tspan x="2534.7" y="1077.9" class="b">Otivo</tspan></text>
</g>
<g id="otivo-link">
<rect class="bo" x="2602" y="1032.9" width="66.4" height="51.4" rx="2"/>
<text class="t c" font-size="5.2"><tspan x="2635.2" y="1057.2">AI displays link to visit</tspan><tspan x="2635.2" y="1065.3">to Otivo</tspan></text>
</g>
<g id="ot-1"><rect class="bf" x="2695" y="1045.4" width="47" height="32.1" rx="2"/><text class="t c s35"><tspan x="2718.5" y="1057">User taken (in</tspan><tspan x="2718.5" y="1062.5">separate window) to</tspan><tspan x="2718.5" y="1068">Otivo web portal</tspan></text></g>
<g id="ot-2"><rect class="bf" x="2768.4" y="1045.4" width="31.6" height="32.1" rx="2"/><text class="t c s35"><tspan x="2784.2" y="1059.7">User enters</tspan><tspan x="2784.2" y="1065.2">details</tspan></text></g>
<g id="ot-3"><rect class="bf" x="2830.6" y="1045.4" width="32.7" height="32.1" rx="2"/><text class="t c s35"><tspan x="2847" y="1057">User provides</tspan><tspan x="2847" y="1062.5">CFS member</tspan><tspan x="2847" y="1068">ID</tspan></text></g>
<g id="ot-4"><rect class="bf" x="2893.9" y="1045.4" width="31.6" height="32.1" rx="2"/><text class="t c s35"><tspan x="2909.7" y="1057">User provides</tspan><tspan x="2909.7" y="1062.5">CFS account</tspan><tspan x="2909.7" y="1068">number</tspan></text></g>
<g id="ot-5"><rect class="bf" x="2956" y="1045.4" width="31.8" height="32.1" rx="2"/><text class="t c s35"><tspan x="2971.9" y="1057">User enters</tspan><tspan x="2971.9" y="1062.5">current super</tspan><tspan x="2971.9" y="1068">balance</tspan></text></g>
<g id="ot-6"><rect class="bf" x="3018.4" y="1045.4" width="32.6" height="32.1" rx="2"/><text class="t c s35"><tspan x="3034.7" y="1054.3">Choose</tspan><tspan x="3034.7" y="1059.8">current</tspan><tspan x="3034.7" y="1065.3">investment</tspan><tspan x="3034.7" y="1070.8">options</tspan></text></g>
<g id="ot-7"><rect class="bf" x="3081.6" y="1045.4" width="31.7" height="32.1" rx="2"/><text class="t c s35"><tspan x="3097.5" y="1054.3">Confirm</tspan><tspan x="3097.5" y="1059.8">terms,</tspan><tspan x="3097.5" y="1065.3">conditions</tspan><tspan x="3097.5" y="1070.8">and privacy</tspan></text></g>
<g id="ot-8"><rect class="bf" x="3150" y="1045.4" width="31.6" height="32.1" rx="2"/><text class="t c s35"><tspan x="3165.8" y="1054.3">User</tspan><tspan x="3165.8" y="1059.8">proceeds to</tspan><tspan x="3165.8" y="1065.3">Otivo</tspan><tspan x="3165.8" y="1070.8">dashboard</tspan></text></g>
<g id="intrafund-path">
<rect class="bo" x="2501" y="1149.2" width="69.4" height="51.1" rx="2"/>
<text class="t c" font-size="5.2" x="2535.7" y="1176.9">Intrafund</text>
</g>
<g id="risk-profile">
<rect class="bo" x="2602" y="1149.2" width="68.4" height="51.1" rx="2"/>
<text class="t c" font-size="5.2"><tspan x="2636.2" y="1168.7">AI asks risk profile</tspan><tspan x="2636.2" y="1176.9">questionnaire and</tspan><tspan x="2636.2" y="1185.3">compare</tspan></text>
</g>
<g id="ignition">
<rect class="bo" x="2705" y="1149.2" width="68.5" height="51.1" rx="2"/>
<text class="t c" font-size="5.2"><tspan x="2739.2" y="1172.9">If doesn't match → talk</tspan><tspan x="2739.2" y="1181.2">to an adviser (ignition)</tspan></text>
</g>
<g id="exit-chat">
<rect x="1695" y="1238.9" width="104" height="60.1" rx="2" fill="#FFC8C3" stroke="#E88880" stroke-width="1.5"/>
<text class="t c" font-size="5.3"><tspan x="1747" y="1267.1">Customer exits the conversation and</tspan><tspan x="1747" y="1275.3">ends chat</tspan></text>
</g>

<g id="legend-member">
<circle cx="49" cy="1264" r="20" fill="#DCCFFD" stroke="#A07EEC" stroke-width="1.5"/>
<text class="t c b" font-size="5.5" x="49" y="1266">Member</text>
</g>
<g id="legend-bot">
<circle cx="106" cy="1263.5" r="20" fill="#FEDFC4" stroke="#F5B36B" stroke-width="1.5"/>
<text class="t c b" font-size="5.5"><tspan x="106" y="1262">AI/CHAT</tspan><tspan x="106" y="1269">BOT</tspan></text>
</g>
</svg>
